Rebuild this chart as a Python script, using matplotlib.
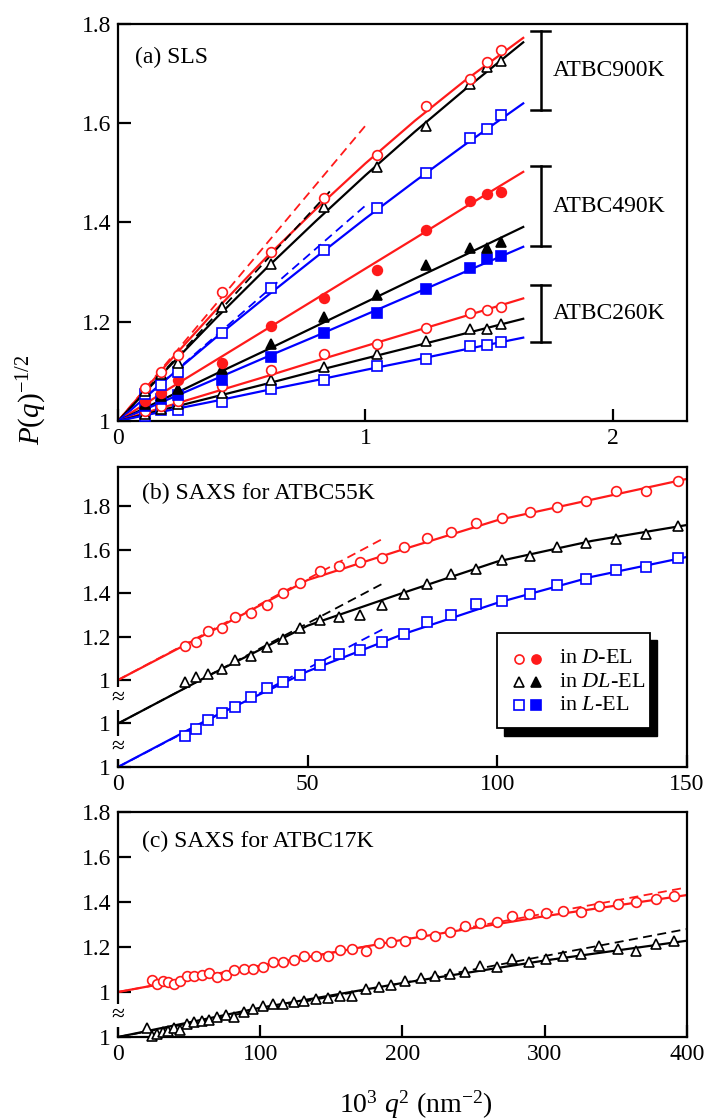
import numpy as np
import matplotlib
matplotlib.use('Agg')
import matplotlib.pyplot as plt
import matplotlib.transforms as mtransforms
from matplotlib.patches import Rectangle

plt.rcParams['font.family'] = 'Liberation Serif'
plt.rcParams['mathtext.fontset'] = 'custom'
plt.rcParams['mathtext.rm'] = 'Liberation Serif'
plt.rcParams['mathtext.it'] = 'Liberation Serif:italic'
plt.rcParams['mathtext.bf'] = 'Liberation Serif:bold'

RED = '#ff1a1a'
BLUE = '#0000ff'
BLACK = '#000000'

# ---------------- (a) SLS ----------------
q2_sls = [0.11, 0.174, 0.244, 0.42, 0.618, 0.834, 1.047, 1.247, 1.422, 1.49, 1.549]
sls_900_D = [1.066, 1.099, 1.133, 1.26, 1.34, 1.45, 1.535, 1.634, 1.69, 1.724, 1.748]
sls_900_DL = [1.06, 1.095, 1.116, 1.23, 1.317, 1.431, 1.512, 1.594, 1.68, 1.713, 1.726]
sls_900_L = [1.055, 1.072, 1.099, 1.178, 1.267, 1.344, 1.43, 1.5, 1.571, 1.589, 1.616]
sls_490_D = [1.04, 1.056, 1.082, 1.117, 1.191, 1.247, 1.304, 1.384, 1.443, 1.457, 1.461]
sls_490_DL = [1.035, 1.05, 1.064, 1.104, 1.155, 1.21, 1.253, 1.314, 1.349, 1.349, 1.361]
sls_490_L = [1.03, 1.045, 1.052, 1.082, 1.128, 1.178, 1.218, 1.265, 1.308, 1.327, 1.332]
sls_260_D = [1.02, 1.03, 1.04, 1.07, 1.103, 1.136, 1.155, 1.188, 1.218, 1.223, 1.23]
sls_260_DL = [1.015, 1.025, 1.035, 1.057, 1.082, 1.109, 1.136, 1.162, 1.186, 1.186, 1.195]
sls_260_L = [1.01, 1.023, 1.022, 1.039, 1.064, 1.082, 1.11, 1.124, 1.151, 1.153, 1.16]

# fitted curves
q2_sls_fit = [0, 0.2, 0.4, 0.6, 0.8, 1.0, 1.2, 1.4, 1.638]
fit_900_D = [1.0, 1.116, 1.226, 1.330, 1.427, 1.519, 1.605, 1.685, 1.772]
fit_900_DL = [1.0, 1.106, 1.209, 1.308, 1.403, 1.495, 1.583, 1.667, 1.763]
fit_900_L = [1.0, 1.086, 1.170, 1.251, 1.330, 1.408, 1.483, 1.556, 1.640]
fit_490_D = [1.0, 1.063, 1.124, 1.185, 1.246, 1.307, 1.368, 1.430, 1.502]
fit_490_DL = [1.0, 1.048, 1.096, 1.143, 1.191, 1.239, 1.287, 1.334, 1.391]
fit_490_L = [1.0, 1.043, 1.086, 1.129, 1.171, 1.214, 1.257, 1.300, 1.351]
fit_260_D = [1.0, 1.030, 1.060, 1.090, 1.121, 1.151, 1.181, 1.211, 1.247]
fit_260_DL = [1.0, 1.025, 1.050, 1.075, 1.101, 1.126, 1.151, 1.176, 1.206]
fit_260_L = [1.0, 1.021, 1.041, 1.062, 1.082, 1.103, 1.123, 1.144, 1.168]

# initial slopes (dashed)
init_900_D = ([0, 1.0], [1.0, 1.595])
init_900_DL = ([0, 0.87], [1.0, 1.47])
init_900_L = ([0, 1.0], [1.0, 1.434])

brackets = {'ATBC900K': (1.627, 1.786), 'ATBC490K': (1.353, 1.513), 'ATBC260K': (1.16, 1.274)}

# ---------------- (b) SAXS ATBC55K ----------------
q2_b = [17.7, 20.6, 23.8, 27.4, 30.9, 35.0, 39.3, 43.5, 48.1, 53.2, 58.2, 63.7,
        69.6, 75.3, 81.5, 87.8, 94.4, 101.3, 108.5, 115.8, 123.3, 131.2, 139.2, 147.5]
b_D = [1.157, 1.173, 1.224, 1.239, 1.289, 1.307, 1.347, 1.401, 1.446, 1.501, 1.523, 1.543,
       1.563, 1.61, 1.651, 1.682, 1.724, 1.744, 1.775, 1.795, 1.824, 1.867, 1.867, 1.913]
b_DL = [1.192, 1.214, 1.226, 1.25, 1.291, 1.311, 1.35, 1.388, 1.439, 1.476, 1.488, 1.501,
        1.547, 1.594, 1.64, 1.686, 1.712, 1.754, 1.769, 1.812, 1.831, 1.847, 1.871, 1.908]
b_L = [1.144, 1.176, 1.218, 1.249, 1.275, 1.321, 1.362, 1.392, 1.423, 1.469, 1.519, 1.537,
       1.573, 1.612, 1.665, 1.701, 1.75, 1.762, 1.794, 1.835, 1.866, 1.905, 1.92, 1.959]
q2_b_fit = [0, 25, 50, 75, 100, 125, 150]
fit_b_D = [1.0, 1.228, 1.46, 1.60, 1.735, 1.83, 1.925]
fit_b_DL = [1.0, 1.23, 1.45, 1.60, 1.745, 1.84, 1.913]
fit_b_L = [1.0, 1.23, 1.44, 1.61, 1.755, 1.875, 1.966]
init_b_D = ([0, 70.5], [1.0, 1.656])
init_b_DL = ([0, 70.5], [1.0, 1.65])
init_b_L = ([0, 70], [1.0, 1.635])
shift_b = {'D': 0.0, 'DL': -0.2, 'L': -0.4}

# ---------------- (c) SAXS ATBC17K ----------------
q2_c_D = [23.7, 27.7, 31.5, 35.4, 39.4, 43.7, 48.8, 53.5, 58.9, 64.3, 69.9, 76.1, 81.7, 88.3,
          94.8, 101.9, 108.9, 116, 123.5, 131, 139.4, 147.4, 155.8, 164.6, 174, 183.3, 192.1,
          202.1, 212.7, 222.7, 233.3, 243.7, 254.4, 266.2, 277.2, 288.9, 300.7, 313.1, 325.4,
          338.3, 351.2, 364.1, 378.2, 391.1]
c_D = [1.055, 1.036, 1.05, 1.043, 1.036, 1.05, 1.072, 1.07, 1.076, 1.084, 1.065, 1.076, 1.099,
       1.102, 1.102, 1.11, 1.132, 1.135, 1.144, 1.161, 1.159, 1.161, 1.188, 1.191, 1.184, 1.218,
       1.221, 1.228, 1.258, 1.248, 1.265, 1.295, 1.307, 1.31, 1.339, 1.347, 1.351, 1.361, 1.357,
       1.384, 1.391, 1.401, 1.413, 1.425]
q2_c_DL = [20.2] + q2_c_D
c_DL = [1.039, 1.006, 1.013, 1.021, 1.028, 1.039, 1.032, 1.058, 1.065, 1.072, 1.077, 1.087, 1.098,
        1.087, 1.112, 1.124, 1.139, 1.147, 1.147, 1.154, 1.161, 1.169, 1.172, 1.184, 1.181, 1.213,
        1.221, 1.231, 1.25, 1.261, 1.272, 1.28, 1.29, 1.317, 1.31, 1.347, 1.332, 1.347, 1.361,
        1.369, 1.403, 1.391, 1.384, 1.413, 1.428]
q2_c_fit = [0, 100, 200, 300, 400]
fit_c_D = [1.0, 1.117, 1.232, 1.337, 1.431]
fit_c_DL = [1.0, 1.13, 1.24, 1.34, 1.428]
init_c_D = ([0, 400], [1.0, 1.465])
init_c_DL = ([0, 400], [1.0, 1.48])
shift_c = {'D': 0.0, 'DL': -0.2}

# ---------------- figure ----------------
fig = plt.figure(figsize=(7.1, 11.2), dpi=100)
ax_a = fig.add_axes([0.1662, 0.6241, 0.8014, 0.3545])
ax_b = fig.add_axes([0.1662, 0.3152, 0.8014, 0.2679])
ax_c = fig.add_axes([0.1662, 0.0741, 0.8014, 0.2009])

LW = 1.6
MS = 7
MEW = 1.2
DASH = (5, 3)


def style(ax):
    for s in ax.spines.values():
        s.set_linewidth(1.6)
    ax.tick_params(direction='in', length=9, width=1.6, labelsize=17, pad=5,
                   top=False, right=False)


def open_pts(ax, x, y, marker, color, ms=MS):
    ax.plot(x, y, ls='none', marker=marker, ms=ms, mfc='white', mec=color, mew=MEW,
            zorder=4, clip_on=False)


def full_pts(ax, x, y, marker, color, ms=MS):
    ax.plot(x, y, ls='none', marker=marker, ms=ms, mfc=color, mec=color, mew=MEW,
            zorder=4, clip_on=False)


# ----- (a)
for fy, c in [(fit_900_D, RED), (fit_900_DL, BLACK), (fit_900_L, BLUE),
              (fit_490_D, RED), (fit_490_DL, BLACK), (fit_490_L, BLUE),
              (fit_260_D, RED), (fit_260_DL, BLACK), (fit_260_L, BLUE)]:
    ax_a.plot(q2_sls_fit, fy, color=c, lw=LW, zorder=2)
for (dx, dy), c in [(init_900_D, RED), (init_900_DL, BLACK), (init_900_L, BLUE)]:
    ax_a.plot(dx, dy, color=c, lw=1.3, dashes=DASH, zorder=2)

open_pts(ax_a, q2_sls, sls_260_L, 's', BLUE, 6.5)
open_pts(ax_a, q2_sls, sls_260_DL, '^', BLACK)
open_pts(ax_a, q2_sls, sls_260_D, 'o', RED)
full_pts(ax_a, q2_sls, sls_490_L, 's', BLUE, 6.5)
full_pts(ax_a, q2_sls, sls_490_DL, '^', BLACK)
full_pts(ax_a, q2_sls, sls_490_D, 'o', RED)
open_pts(ax_a, q2_sls, sls_900_L, 's', BLUE, 6.5)
open_pts(ax_a, q2_sls, sls_900_DL, '^', BLACK)
open_pts(ax_a, q2_sls, sls_900_D, 'o', RED)

for name, (lo, hi) in brackets.items():
    ax_a.plot([1.709, 1.709], [lo, hi], color=BLACK, lw=1.8)
    ax_a.plot([1.67, 1.748], [lo, lo], color=BLACK, lw=1.8)
    ax_a.plot([1.67, 1.748], [hi, hi], color=BLACK, lw=1.8)
    ax_a.text(1.756, (lo + hi) / 2, name, fontsize=17, va='center', ha='left')

ax_a.set_xlim(0, 2.3)
ax_a.set_ylim(1.0, 1.8)
ax_a.set_xticks([0, 1, 2])
ax_a.set_xticklabels(['0', '1', '2'])
ax_a.set_yticks([1.0, 1.2, 1.4, 1.6, 1.8])
ax_a.set_yticklabels(['1', '1.2', '1.4', '1.6', '1.8'])
style(ax_a)
ax_a.text(0.03, 0.915, '(a) SLS', transform=ax_a.transAxes, fontsize=17, va='center')

# ----- (b)
for fy, c, k in [(fit_b_D, RED, 'D'), (fit_b_DL, BLACK, 'DL'), (fit_b_L, BLUE, 'L')]:
    ax_b.plot(q2_b_fit, np.array(fy) + shift_b[k], color=c, lw=LW, zorder=2)
for (dx, dy), c, k in [(init_b_D, RED, 'D'), (init_b_DL, BLACK, 'DL'), (init_b_L, BLUE, 'L')]:
    ax_b.plot(dx, np.array(dy) + shift_b[k], color=c, lw=1.3, dashes=DASH, zorder=2)
open_pts(ax_b, q2_b, np.array(b_D) + shift_b['D'], 'o', RED)
open_pts(ax_b, q2_b, np.array(b_DL) + shift_b['DL'], '^', BLACK)
open_pts(ax_b, q2_b, np.array(b_L) + shift_b['L'], 's', BLUE, 6.5)

ax_b.set_xlim(0, 150)
ax_b.set_ylim(0.6, 1.98)
ax_b.set_xticks([0, 50, 100, 150])
ax_b.set_yticks([0.6, 0.8, 1.0, 1.2, 1.4, 1.6, 1.8])
ax_b.set_yticklabels(['1', '1', '1', '1.2', '1.4', '1.6', '1.8'])
style(ax_b)
ax_b.text(0.042, 0.913, '(b) SAXS for ATBC55K', transform=ax_b.transAxes, fontsize=17,
          va='center')

# legend box with hard shadow
lx0, ly0, lw_, lh_ = 0.6655, 0.129, 0.27, 0.3187
ax_b.add_patch(Rectangle((lx0 + 0.0125, ly0 - 0.025), lw_, lh_, transform=ax_b.transAxes,
                         fc='black', ec='black', zorder=6))
ax_b.add_patch(Rectangle((lx0, ly0), lw_, lh_, transform=ax_b.transAxes,
                         fc='white', ec='black', lw=1.3, zorder=7))
legend_rows = [('o', RED, r'in $D$-EL'), ('^', BLACK, r'in $DL$-EL'), ('s', BLUE, r'in $L$-EL')]
for i, (m, c, lab) in enumerate(legend_rows):
    yy = 0.36 - i * 0.077
    ax_b.plot([0.7048], [yy], transform=ax_b.transAxes, ls='none', marker=m, ms=6.5,
              mfc='white', mec=c, mew=MEW, zorder=8, clip_on=False)
    ax_b.plot([0.7342], [yy], transform=ax_b.transAxes, ls='none', marker=m, ms=6.5,
              mfc=c, mec=c, mew=MEW, zorder=8, clip_on=False)
    ax_b.text(0.7752, yy, lab, transform=ax_b.transAxes, fontsize=16, va='center',
              ha='left', zorder=8)

# ----- (c)
for fy, c, k in [(fit_c_D, RED, 'D'), (fit_c_DL, BLACK, 'DL')]:
    ax_c.plot(q2_c_fit, np.array(fy) + shift_c[k], color=c, lw=LW, zorder=2)
for (dx, dy), c, k in [(init_c_D, RED, 'D'), (init_c_DL, BLACK, 'DL')]:
    ax_c.plot(dx, np.array(dy) + shift_c[k], color=c, lw=1.3, dashes=DASH, zorder=2)
open_pts(ax_c, q2_c_D, np.array(c_D) + shift_c['D'], 'o', RED)
open_pts(ax_c, q2_c_DL, np.array(c_DL) + shift_c['DL'], '^', BLACK)

ax_c.set_xlim(0, 400)
ax_c.set_ylim(0.8, 1.8)
ax_c.set_xticks([0, 100, 200, 300, 400])
ax_c.set_yticks([0.8, 1.0, 1.2, 1.4, 1.6, 1.8])
ax_c.set_yticklabels(['1', '1', '1.2', '1.4', '1.6', '1.8'])
style(ax_c)
ax_c.text(0.042, 0.871, '(c) SAXS for ATBC17K', transform=ax_c.transAxes, fontsize=17,
          va='center')

# axis-break marks on the left spine
for ax, ys in [(ax_b, [0.915, 0.69]), (ax_c, [0.895])]:
    tr = mtransforms.blended_transform_factory(ax.transAxes, ax.transData)
    for yb in ys:
        ax.text(0, yb, '\u2248', transform=tr, ha='center', va='center', fontsize=17,
                zorder=10, clip_on=False,
                bbox=dict(fc='white', ec='none', pad=0.5))

fig.text(32 / 710, 1 - 400 / 1120, r'$P(q)^{-1/2}$', rotation=90, fontsize=21,
         ha='center', va='center')
fig.text(0.585, 1 - 1105 / 1120, r'$10^3\ q^2$ (nm$^{-2}$)', fontsize=20,
         ha='center', va='center')

fig.savefig('out.png', dpi=100)
